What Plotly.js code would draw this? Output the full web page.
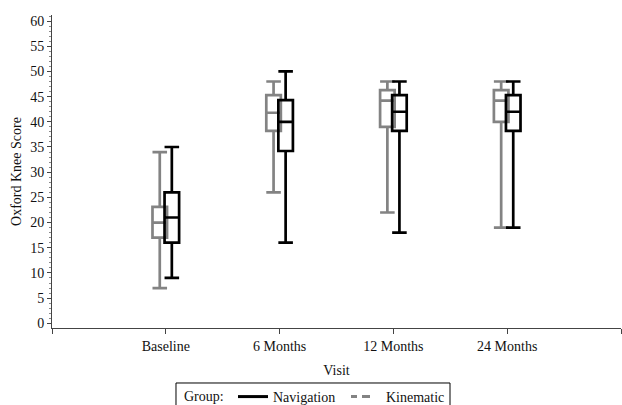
<!DOCTYPE html>
<html>
<head>
<meta charset="utf-8">
<script src="https://cdn.plot.ly/plotly-3.0.1.min.js"></script>
<style>html,body{margin:0;padding:0;background:#fff;}#chart{width:622px;height:405px;}</style>
</head>
<body>
<div id="chart"></div>
<script>
// Categories
const visits = ["Baseline", "6 Months", "12 Months", "24 Months"];

// Navigation group (black)
const navLower  = [9, 16, 18, 19];
const navQ1     = [16, 34.2, 38.2, 38.2];
const navMedian = [21, 40, 42, 42];
const navQ3     = [26, 44.3, 45.3, 45.3];
const navUpper  = [35, 50, 48, 48];

// Kinematic group (gray)
const kinLower  = [7, 26, 22, 19];
const kinQ1     = [17, 38.2, 39, 40];
const kinMedian = [20, 41.8, 44.2, 44.2];
const kinQ3     = [23.1, 45.3, 46.3, 46.3];
const kinUpper  = [34, 48, 48, 48];

const catPos = visits.map((v, i) => i + 1);
const shift = 0.053;
const font = "Liberation Serif, Times New Roman, serif";
const gray = "#838383";
const fs = 14;

const traces = [
  {
    type: "box", name: "Kinematic", showlegend: false,
    x: catPos.map(p => p - shift),
    q1: kinQ1, median: kinMedian, q3: kinQ3,
    lowerfence: kinLower, upperfence: kinUpper,
    boxpoints: false, width: 0.128, whiskerwidth: 1,
    fillcolor: "rgba(255,255,255,0)",
    line: {color: gray, width: 2.7}, hoverinfo: "skip"
  },
  {
    type: "box", name: "Navigation", showlegend: false,
    x: catPos.map(p => p + shift),
    q1: navQ1, median: navMedian, q3: navQ3,
    lowerfence: navLower, upperfence: navUpper,
    boxpoints: false, width: 0.128, whiskerwidth: 1,
    fillcolor: "rgba(255,255,255,0)",
    line: {color: "#000", width: 2.7}, hoverinfo: "skip"
  },
  {
    type: "scatter", mode: "lines", name: "Navigation",
    x: [null], y: [null], line: {color: "#000", width: 3}
  },
  {
    type: "scatter", mode: "lines", name: "Kinematic",
    x: [null], y: [null], line: {color: gray, width: 3, dash: "6px,5px,8px,100px"}
  }
];

const layout = {
  width: 622, height: 405,
  margin: {l: 52, r: 1, t: 15, b: 77, autoexpand: false},
  paper_bgcolor: "#fff", plot_bgcolor: "#fff",
  font: {family: font, size: fs, color: "#111"},
  boxmode: "overlay",
  showlegend: true,
  xaxis: {
    range: [0, 5],
    tickvals: [0, 1, 2, 3, 4, 5],
    ticktext: [""].concat(visits, [""]),
    ticks: "outside", ticklen: 5, tickcolor: "#444", tickwidth: 1,
    showline: true, linecolor: "#444", linewidth: 1,
    showgrid: false, zeroline: false,
    tickfont: {family: font, size: fs, color: "#111"},
    title: {text: "Visit", font: {family: font, size: fs, color: "#111"}, standoff: 12}
  },
  yaxis: {
    range: [-0.93, 61.2],
    tickvals: [0, 5, 10, 15, 20, 25, 30, 35, 40, 45, 50, 55, 60],
    ticks: "outside", ticklen: 4, tickcolor: "#444", tickwidth: 1,
    minor: {dtick: 1, ticks: "outside", ticklen: 2, tickcolor: "#888", tickwidth: 1},
    showline: true, linecolor: "#444", linewidth: 1,
    showgrid: false, zeroline: false,
    tickfont: {family: font, size: fs, color: "#111"},
    title: {text: "Oxford Knee Score", font: {family: font, size: fs, color: "#111"}, standoff: 5}
  },
  legend: {
    orientation: "h",
    x: 0.3181, xanchor: "left",
    y: -0.2204, yanchor: "middle",
    bgcolor: "rgba(255,255,255,0)",
    font: {family: font, size: fs, color: "#111"},
    itemwidth: 30,
    entrywidth: 68, entrywidthmode: "pixels",
    traceorder: "normal"
  },
  shapes: [{
    type: "rect", xref: "paper", yref: "paper",
    x0: 0.2179, x1: 0.6995, y0: -0.1757, y1: -0.30,
    line: {color: "#000", width: 1}, fillcolor: "rgba(0,0,0,0)", layer: "above"
  }],
  annotations: [{
    text: "Group:", xref: "paper", yref: "paper",
    x: 0.2285, xanchor: "left", y: -0.2204, yanchor: "middle",
    showarrow: false, font: {family: font, size: fs, color: "#111"}
  }]
};

Plotly.newPlot("chart", traces, layout, {staticPlot: true, displayModeBar: false});
</script>
</body>
</html>
